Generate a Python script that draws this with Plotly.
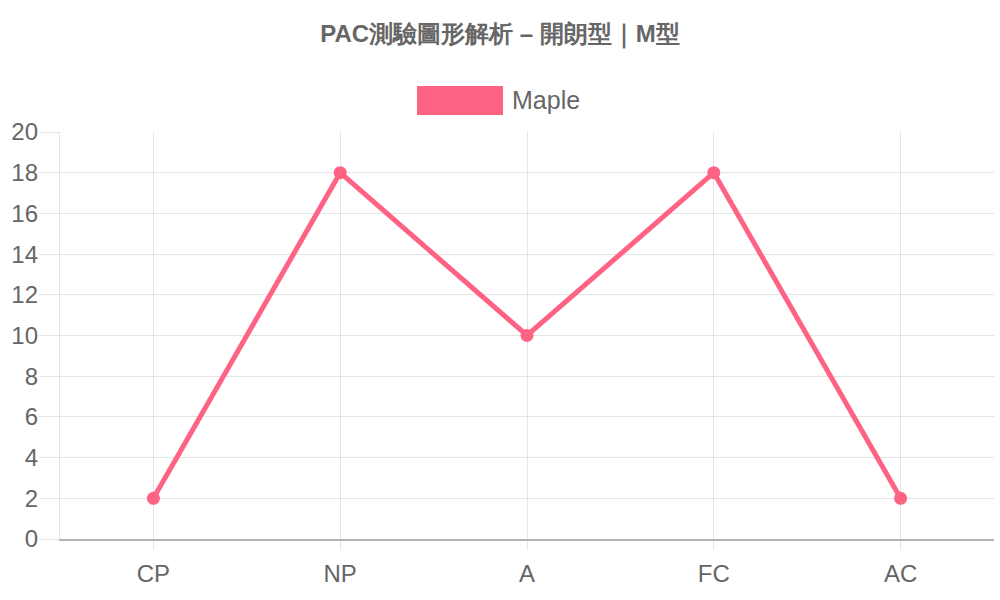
import plotly.graph_objects as go

title_text = "PAC測驗圖形解析 – 開朗型｜M型"
categories = ["CP", "NP", "A", "FC", "AC"]
series_name = "Maple"
values = [2, 18, 10, 18, 2]
y_ticks = list(range(0, 21, 2))

PINK = "#ff6384"
TEXT = "#666666"
GRID = "rgba(0,0,0,0.1)"
FONT = "Liberation Sans, Arial, sans-serif"

fig = go.Figure()
fig.add_trace(go.Scatter(
    x=list(range(len(categories))), y=values, name=series_name,
    mode="lines+markers",
    line=dict(color=PINK, width=5),
    marker=dict(color=PINK, size=13),
    showlegend=False,
))

fig.update_layout(
    width=1000, height=600,
    paper_bgcolor="white", plot_bgcolor="white",
    margin=dict(l=60, r=6, t=132, b=61, autoexpand=False),
    font=dict(family=FONT, color=TEXT, size=24),
    title=dict(text="<b>" + title_text + "</b>", x=0.5, xanchor="center",
               y=1 - 34 / 600, yanchor="middle", yref="container",
               font=dict(size=24, color=TEXT, family=FONT)),
    xaxis=dict(
        range=[-0.5, len(categories) - 0.5], automargin=False,
        tickmode="array", tickvals=list(range(len(categories))), ticktext=categories,
        showgrid=True, gridcolor=GRID, gridwidth=1.3,
        ticks="outside", ticklen=9, tickcolor=GRID, tickwidth=1.3,
        showline=True, linecolor="rgba(0,0,0,0.3)", linewidth=2,
        zeroline=False, tickfont=dict(size=24, color=TEXT),
        ticklabelstandoff=3,
    ),
    yaxis=dict(
        range=[0, 20], tickmode="array", tickvals=y_ticks, automargin=False,
        showgrid=True, gridcolor=GRID, gridwidth=1.3,
        ticks="outside", ticklen=20, tickcolor=GRID, tickwidth=1.3,
        showline=True, linecolor=GRID, linewidth=1.3,
        zeroline=False, tickfont=dict(size=24, color=TEXT),
        ticklabelstandoff=-4,
    ),
    shapes=[dict(type="rect", xref="paper", yref="paper",
                 x0=(417 - 60) / 934, x1=(503 - 60) / 934,
                 y0=(539 - 115) / 407, y1=(539 - 86) / 407,
                 fillcolor=PINK, line=dict(width=0))],
    annotations=[dict(text=series_name, xref="paper", yref="paper",
                      x=(510 - 60) / 934, y=(539 - 100) / 407,
                      xanchor="left", yanchor="middle", showarrow=False,
                      font=dict(size=25, color=TEXT))],
)

fig.write_html("out.html", config={"displayModeBar": False},
               post_script="document.body.style.margin='0';")
